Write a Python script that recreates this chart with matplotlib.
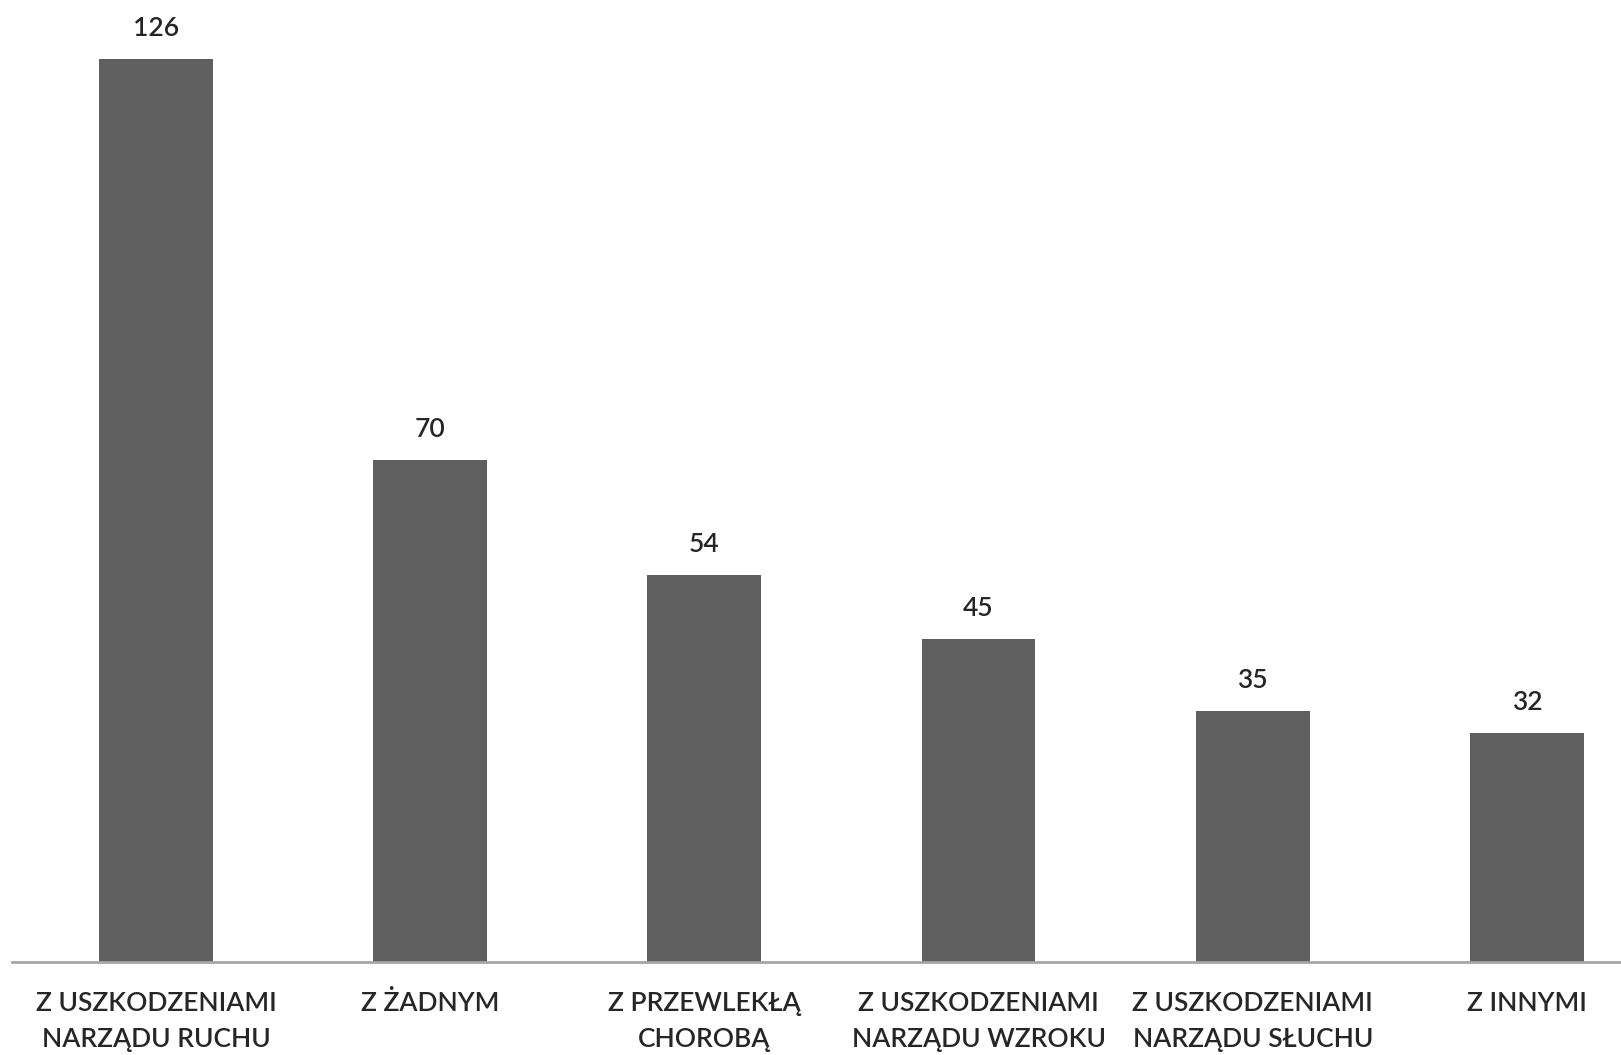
import matplotlib.pyplot as plt
import numpy as np

categories = ['Z USZKODZENIAMI\nNARZĄDU RUCHU', 'Z ŻADNYM', 'Z PRZEWLEKŁĄ\nCHOROBĄ',
              'Z USZKODZENIAMI\nNARZĄDU WZROKU', 'Z USZKODZENIAMI\nNARZĄDU SŁUCHU', 'Z INNYMI']
values = [126, 70, 54, 45, 35, 32]

plt.rcParams['font.family'] = ['Lato', 'DejaVu Sans']

fig = plt.figure(figsize=(16.21, 10.55), dpi=100)
ax = fig.add_axes([12 / 1621, 1 - 962 / 1055, 1 - 12 / 1621, 962 / 1055])

x = np.arange(len(values))
bars = ax.bar(x, values, width=0.415, color='#5f5f5f')

for b, v in zip(bars, values):
    ax.annotate(str(v), (b.get_x() + b.get_width() / 2, v), xytext=(0, 22),
                textcoords='offset points', ha='center', va='center',
                fontsize=19, fontweight='semibold', color='#262626')

ax.set_xlim(-0.525, 5.343)
ax.set_ylim(0, 134.2)
ax.set_xticks(x)
ax.set_xticklabels(categories, fontsize=19, fontweight='semibold', color='#262626',
                   linespacing=1.55, va='top')
ax.tick_params(axis='x', length=0, pad=21)
ax.set_yticks([])
for s in ['top', 'right', 'left']:
    ax.spines[s].set_visible(False)
ax.spines['bottom'].set_color('#a6a6a6')
ax.spines['bottom'].set_linewidth(2)

fig.savefig('out.png', dpi=100)
